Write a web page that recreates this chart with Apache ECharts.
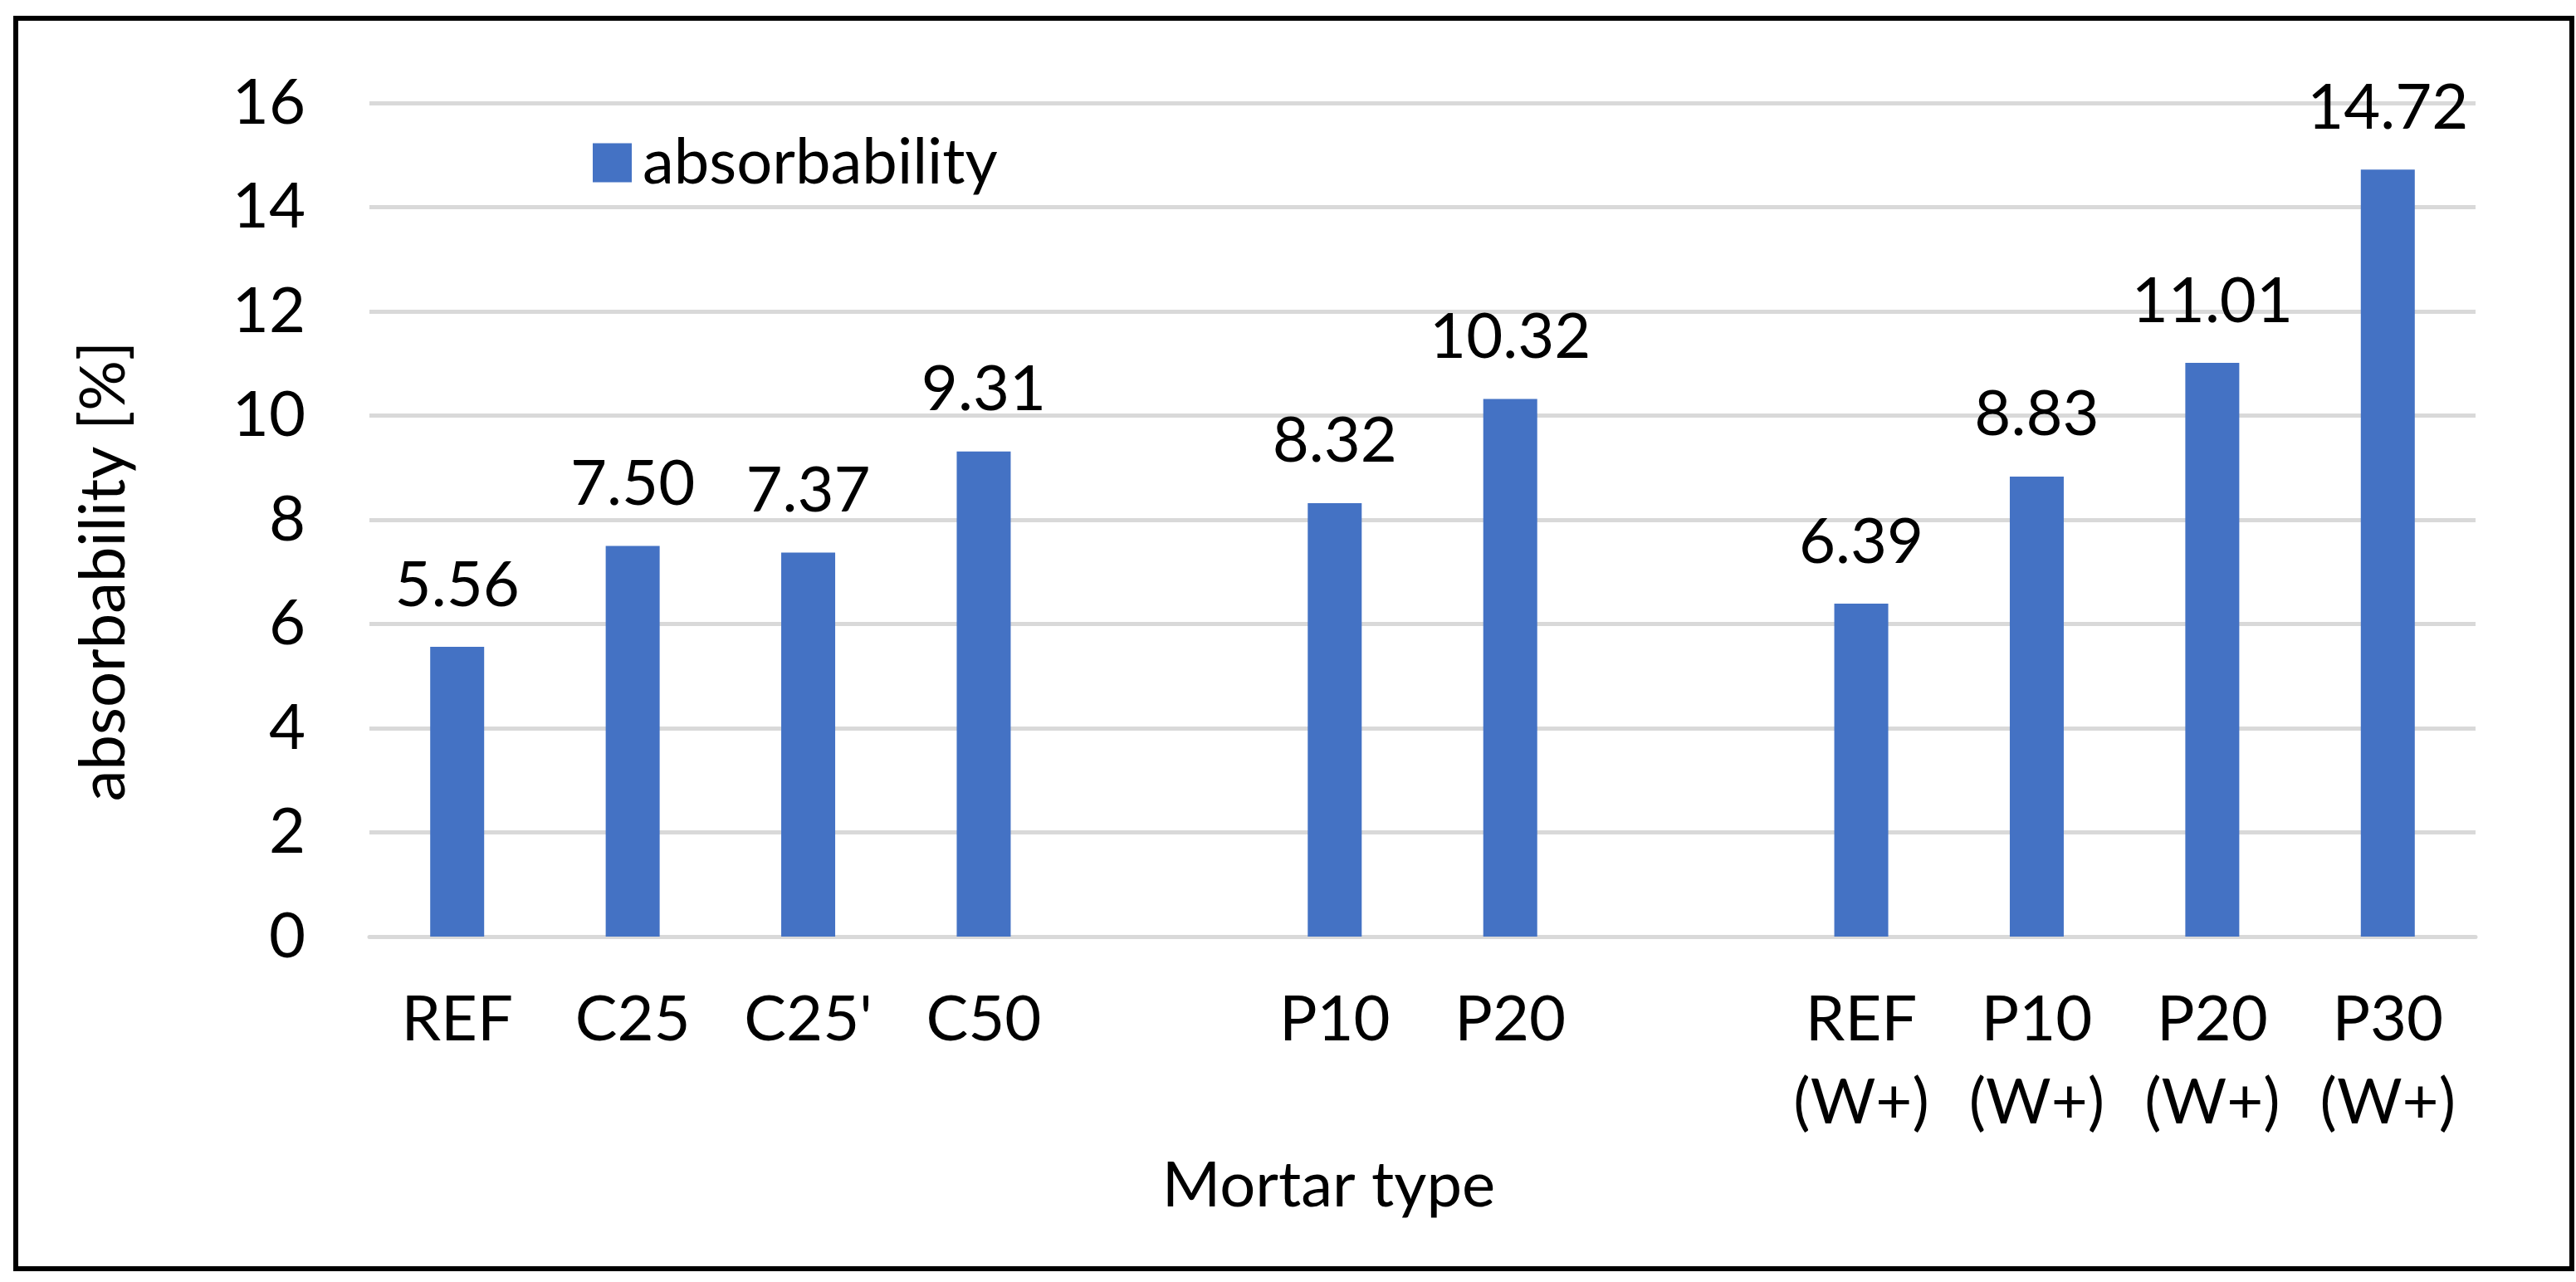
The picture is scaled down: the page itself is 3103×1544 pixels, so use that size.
<!DOCTYPE html>
<html>
<head>
<meta charset="utf-8">
<script src="https://cdn.jsdelivr.net/npm/echarts@6/dist/echarts.min.js"></script>
<style>
html,body{margin:0;padding:0;background:#fff;}
#chart{width:3103px;height:1544px;}
</style>
</head>
<body>
<div id="chart"></div>
<script>
const categories = ['REF', 'C25', "C25'", 'C50', '', 'P10', 'P20', '', 'REF\n(W+)', 'P10\n(W+)', 'P20\n(W+)', 'P30\n(W+)'];
const absorbability = [5.56, 7.50, 7.37, 9.31, null, 8.32, 10.32, null, 6.39, 8.83, 11.01, 14.72];
const yTicks = { min: 0, max: 16, interval: 2 };
const seriesName = 'absorbability';
const xTitle = 'Mortar type';
const yTitle = 'absorbability [%]';

const FONT = 'Lato';
const chart = echarts.init(document.getElementById('chart'), null, { renderer: 'canvas' });
chart.setOption({
  backgroundColor: '#fff',
  animation: false,
  textStyle: { fontFamily: FONT },
  grid: { left: 445, right: 121, top: 124, bottom: 416, containLabel: false },
  legend: {
    data: [seriesName],
    left: 709, top: 153,
    itemWidth: 47, itemHeight: 47, itemGap: 0,
    icon: 'rect',
    textStyle: { fontFamily: FONT, fontSize: 76, color: '#000', lineHeight: 76, padding: [0, 0, 0, 8] }
  },
  xAxis: {
    type: 'category',
    data: categories,
    boundaryGap: true,
    axisLine: { show: true, lineStyle: { color: '#d9d9d9', width: 5 } },
    axisTick: { show: false },
    axisLabel: { interval: 0, fontFamily: FONT, fontSize: 76, color: '#000', lineHeight: 100, margin: 50 },
    name: xTitle,
    nameLocation: 'middle',
    nameGap: 262,
    nameTextStyle: { fontFamily: FONT, fontSize: 76, color: '#000', lineHeight: 76, padding: [0, 226, 0, 0] }
  },
  yAxis: {
    type: 'value',
    min: yTicks.min, max: yTicks.max, interval: yTicks.interval,
    axisLine: { show: false },
    axisTick: { show: false },
    axisLabel: { fontFamily: FONT, fontSize: 76, color: '#000', margin: 77 },
    splitLine: { show: true, lineStyle: { color: '#d9d9d9', width: 5 } },
    name: yTitle,
    nameLocation: 'middle',
    nameGap: 282,
    nameRotate: 90,
    nameTextStyle: { fontFamily: FONT, fontSize: 76, color: '#000', lineHeight: 76, padding: [0, 124, 0, 0] }
  },
  series: [{
    name: seriesName,
    type: 'bar',
    data: absorbability,
    barWidth: 65,
    itemStyle: { color: '#4472C4' },
    label: {
      show: true,
      position: 'top',
      distance: 36,
      fontFamily: FONT, fontSize: 76, color: '#000', lineHeight: 76,
      formatter: p => (p.value == null ? '' : Number(p.value).toFixed(2))
    }
  }],
  graphic: [{
    type: 'rect',
    shape: { x: 19, y: 22, width: 3079, height: 1506 },
    style: { fill: 'none', stroke: '#000', lineWidth: 6 },
    silent: true,
    z: 100
  }]
});
</script>
</body>
</html>
